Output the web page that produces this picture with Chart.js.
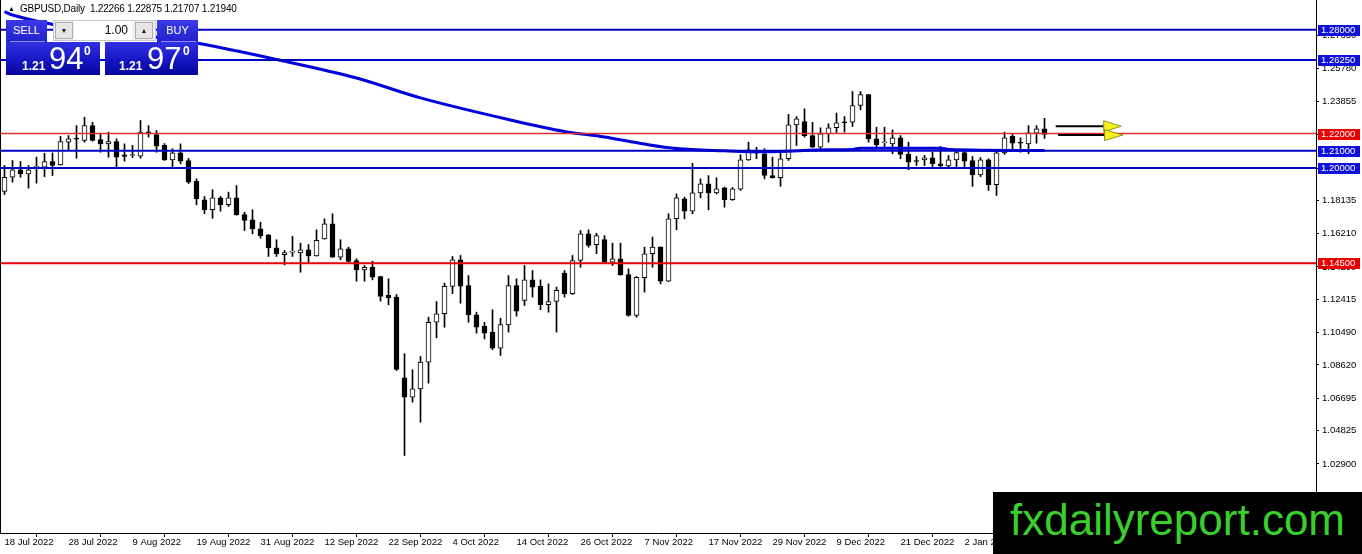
<!DOCTYPE html>
<html lang="en">
<head>
  <meta charset="UTF-8" />
  <title>GBPUSD Daily</title>
  <script src="https://cdn.jsdelivr.net/npm/chart.js"></script>
  <style>
    body { margin: 0; background: #fff; overflow: hidden; }
    #wrap { position: relative; width: 1362px; height: 554px; }
    #wrap canvas { position: absolute; left: 0; top: 0; }
    .txt { position: absolute; white-space: pre; color: #000; }
    .title { left: 8px; top: 2px; font: 10px 'Liberation Sans', sans-serif; line-height: 14px; letter-spacing: -0.2px; }
    .title .tri { font-size: 7px; vertical-align: 1px; }
    .blue { position: absolute; background: linear-gradient(to bottom, #3030e2 0%, #1616c4 55%, #06069c 100%); color: #fff; }
    .tab { font: 11px 'Liberation Sans', sans-serif; text-align: center; line-height: 20px; background: linear-gradient(to bottom, #3a3ae6, #2222cc); }
    .sep { position: absolute; height: 1px; background: #8c8cf0; }
    .lot { position: absolute; left: 53px; top: 20px; width: 101px; height: 19px; background: #f0f0f0; border: 1px solid #c8c8c8; }
    .btn { position: absolute; top: 1px; width: 16px; height: 15px; background: #e6e6e6; border: 1px solid #adadad; font: 7px sans-serif; text-align: center; line-height: 15px; color: #222; }
    .inp { position: absolute; left: 20px; top: 0; width: 58px; height: 19px; background: #fff; font: 12px 'Liberation Sans', sans-serif; text-align: right; line-height: 19px; padding-right: 4px; box-sizing: border-box; color: #000; }
    .small { position: absolute; font: bold 12px 'Liberation Sans', sans-serif; line-height: 12px; color: #fff; }
    .big { position: absolute; font: 31px 'Liberation Sans', sans-serif; line-height: 31px; color: #fff; }
    .sup { position: absolute; font: bold 12px 'Liberation Sans', sans-serif; line-height: 12px; color: #fff; }
    .mark { position: absolute; left: 993px; top: 492px; width: 369px; height: 62px; background: #000; }
    .mark span { position: absolute; left: 17px; top: 6px; font: 44px 'Liberation Sans', Arial, sans-serif; line-height: 44px; color: #3acf2c; }
  </style>
</head>
<body>
  <div id="wrap">
    <canvas id="chart" width="1362" height="554"></canvas>

    <div class="txt title"><span class="tri">▲</span>  GBPUSD,Daily  1.22266 1.22875 1.21707 1.21940</div>

    <!-- one-click trading panel -->
    <div class="blue tab" style="left:6px;top:20px;width:41px;height:22px;">SELL</div>
    <div class="sep" style="left:10px;top:41px;width:35px;"></div>
    <div class="lot">
      <div class="btn" style="left:1px;">▼</div>
      <div class="inp">1.00</div>
      <div class="btn" style="left:81px;">▲</div>
    </div>
    <div class="blue tab" style="left:157px;top:20px;width:41px;height:22px;">BUY</div>
    <div class="sep" style="left:161px;top:41px;width:35px;"></div>

    <div class="blue" style="left:6px;top:42px;width:94px;height:33px;"></div>
    <div class="small" style="left:22px;top:60px;">1.21</div>
    <div class="big" style="left:49px;top:43px;">94</div>
    <div class="sup" style="left:84px;top:45px;">0</div>

    <div class="blue" style="left:105px;top:42px;width:93px;height:33px;"></div>
    <div class="small" style="left:119px;top:60px;">1.21</div>
    <div class="big" style="left:147px;top:43px;">97</div>
    <div class="sup" style="left:183px;top:45px;">0</div>

    <div class="mark"><span>fxdailyreport.com</span></div>
  </div>

  <script>
    // daily candles, 18 Jul 2022 .. 16 Jan 2023 (bar index 0..130)
    const opens = [
      1.1865, 1.1947, 1.1990, 1.1967, 1.2004, 1.2005, 1.2038, 1.2019, 1.2150, 1.2169,
      1.2160, 1.2246, 1.2165, 1.2140, 1.2154, 1.2077, 1.2073, 1.2069, 1.2210, 1.2194,
      1.2131, 1.2048, 1.2088, 1.2044, 1.1923, 1.1817, 1.1759, 1.1828, 1.1788, 1.1828,
      1.1732, 1.1701, 1.1649, 1.1614, 1.1539, 1.1499, 1.1514, 1.1510, 1.1528, 1.1493,
      1.1591, 1.1678, 1.1485, 1.1534, 1.1466, 1.1412, 1.1427, 1.1373, 1.1264, 1.1254,
      1.0788, 1.0676, 1.0724, 1.0878, 1.1109, 1.1158, 1.1316, 1.1470, 1.1321, 1.1152,
      1.1085, 1.1050, 1.0959, 1.1094, 1.1321, 1.1235, 1.1354, 1.1316, 1.1210, 1.1229,
      1.1393, 1.1274, 1.1466, 1.1620, 1.1558, 1.1587, 1.1456, 1.1476, 1.1385, 1.1148,
      1.1366, 1.1505, 1.1543, 1.1346, 1.1707, 1.1823, 1.1751, 1.1857, 1.1909, 1.1857,
      1.1886, 1.1817, 1.1878, 1.2048, 1.2096, 1.2083, 1.1957, 1.1944, 1.2054, 1.2250,
      1.2269, 1.2188, 1.2121, 1.2198, 1.2233, 1.2265, 1.2265, 1.2362, 1.2425, 1.2169,
      1.2146, 1.2140, 1.2175, 1.2079, 1.2040, 1.2048, 1.2060, 1.2025, 1.2013, 1.2048,
      1.2090, 1.2044, 1.1961, 1.2048, 1.1904, 1.2088, 1.2183, 1.2150, 1.2140, 1.2202,
      1.22266
    ];
    const highs = [
      1.2015, 1.2044, 1.2038, 1.2015, 1.2063, 1.2086, 1.2088, 1.2183, 1.2188, 1.2246,
      1.2294, 1.2265, 1.2202, 1.2208, 1.2169, 1.2140, 1.2131, 1.2275, 1.2246, 1.2217,
      1.2142, 1.2112, 1.2140, 1.2056, 1.1938, 1.1836, 1.1875, 1.1836, 1.1861, 1.1899,
      1.1745, 1.1759, 1.1687, 1.1616, 1.1586, 1.1524, 1.1605, 1.1566, 1.1558, 1.1643,
      1.1707, 1.1736, 1.1586, 1.1543, 1.1476, 1.1437, 1.1462, 1.1375, 1.1360, 1.1269,
      1.0927, 1.0834, 1.0911, 1.1138, 1.1229, 1.1335, 1.1489, 1.1495, 1.1379, 1.1167,
      1.1109, 1.1181, 1.1132, 1.1379, 1.1360, 1.1437, 1.1408, 1.1354, 1.1331, 1.1312,
      1.1408, 1.1495, 1.1639, 1.1643, 1.1624, 1.1610, 1.1566, 1.1566, 1.1418, 1.1373,
      1.1543, 1.1601, 1.1545, 1.1736, 1.1851, 1.1832, 1.2028, 1.1938, 1.1957, 1.1944,
      1.1890, 1.1888, 1.2077, 1.2150, 1.2121, 1.2112, 1.2063, 1.2092, 1.2310, 1.2298,
      1.2343, 1.2265, 1.2233, 1.2256, 1.2318, 1.2298, 1.2443, 1.2443, 1.2427, 1.2236,
      1.2236, 1.2221, 1.2188, 1.2150, 1.2067, 1.2073, 1.2092, 1.2125, 1.2073, 1.2106,
      1.2102, 1.2067, 1.2061, 1.2054, 1.2102, 1.2208, 1.2198, 1.2175, 1.2246, 1.2246,
      1.22875
    ];
    const lows = [
      1.1847, 1.1919, 1.1947, 1.1884, 1.1913, 1.1951, 1.1957, 1.2017, 1.2106, 1.2057,
      1.2150, 1.2156, 1.2092, 1.2063, 1.2002, 1.2040, 1.2060, 1.2057, 1.2179, 1.2092,
      1.2044, 1.2002, 1.2025, 1.1911, 1.1788, 1.1736, 1.1710, 1.1751, 1.1778, 1.1728,
      1.1639, 1.1620, 1.1595, 1.1489, 1.1489, 1.1441, 1.1489, 1.1398, 1.1456, 1.1491,
      1.1589, 1.1483, 1.1470, 1.1456, 1.1346, 1.1346, 1.1354, 1.1231, 1.1210, 1.0830,
      1.0339, 1.0647, 1.0531, 1.0757, 1.1019, 1.1080, 1.1274, 1.1219, 1.1109, 1.1046,
      1.1013, 1.0950, 1.0917, 1.1052, 1.1144, 1.1206, 1.1254, 1.1181, 1.1167, 1.1052,
      1.1254, 1.1269, 1.1427, 1.1543, 1.1505, 1.1454, 1.1437, 1.1381, 1.1144, 1.1138,
      1.1283, 1.1427, 1.1331, 1.1344, 1.1643, 1.1707, 1.1736, 1.1828, 1.1759, 1.1851,
      1.1774, 1.1813, 1.1871, 1.2044, 1.2054, 1.1938, 1.1942, 1.1895, 1.2044, 1.2131,
      1.2179, 1.2119, 1.2112, 1.2150, 1.2206, 1.2208, 1.2240, 1.2337, 1.2150, 1.2121,
      1.2121, 1.2083, 1.2054, 1.1990, 1.2015, 1.2015, 1.2002, 1.2002, 1.2002, 1.2002,
      1.2009, 1.1894, 1.1951, 1.1871, 1.1842, 1.2079, 1.2112, 1.2092, 1.2083, 1.2144,
      1.21707
    ];
    const closes = [
      1.1946, 1.1990, 1.1967, 1.1990, 1.2008, 1.2038, 1.2015, 1.2154, 1.2169, 1.2167,
      1.2246, 1.2160, 1.2140, 1.2154, 1.2063, 1.2067, 1.2075, 1.2208, 1.2198, 1.2127,
      1.2048, 1.2088, 1.2040, 1.1919, 1.1823, 1.1759, 1.1828, 1.1788, 1.1828, 1.1730,
      1.1697, 1.1649, 1.1610, 1.1539, 1.1505, 1.1512, 1.1516, 1.1528, 1.1493, 1.1582,
      1.1678, 1.1485, 1.1534, 1.1460, 1.1412, 1.1427, 1.1369, 1.1258, 1.1250, 1.0836,
      1.0676, 1.0724, 1.0878, 1.1109, 1.1158, 1.1316, 1.1470, 1.1317, 1.1152, 1.1080,
      1.1046, 1.0959, 1.1096, 1.1321, 1.1173, 1.1354, 1.1312, 1.1210, 1.1229, 1.1293,
      1.1274, 1.1466, 1.1620, 1.1553, 1.1610, 1.1456, 1.1476, 1.1383, 1.1148, 1.1369,
      1.1505, 1.1543, 1.1346, 1.1707, 1.1828, 1.1751, 1.1857, 1.1909, 1.1857, 1.1880,
      1.1817, 1.1880, 1.2048, 1.2106, 1.2086, 1.1957, 1.1944, 1.2054, 1.2250, 1.2285,
      1.2188, 1.2121, 1.2198, 1.2233, 1.2262, 1.2262, 1.2362, 1.2425, 1.2169, 1.2135,
      1.2148, 1.2175, 1.2079, 1.2034, 1.2038, 1.2060, 1.2025, 1.2013, 1.2048, 1.2090,
      1.2040, 1.1961, 1.2048, 1.1904, 1.2088, 1.2175, 1.2144, 1.2144, 1.2204, 1.2227,
      1.21940
    ];

    // moving average, read at a few bars
    const maIndex = [0, 1, 24, 34, 44, 52, 63, 70, 75, 80, 84, 90, 95, 103, 106, 107, 117, 118, 130];
    const maValues = [1.2905, 1.2885, 1.2723, 1.2628, 1.2521, 1.2406, 1.2281, 1.2212, 1.2180, 1.2139,
                      1.2113, 1.2100, 1.2094, 1.2106, 1.2108, 1.2115, 1.2115, 1.2108, 1.2102];

    // horizontal levels
    const levelPrices = [1.28, 1.2625, 1.22, 1.21, 1.20, 1.145];
    const levelColors = ['#0000c4', '#0000c4', '#dc3030', '#0000c4', '#0000c4', '#e80000'];
    const levelWidths = [2, 2, 1.5, 2, 2, 2];
    const levelBoxColors = ['#1010dc', '#1010dc', '#e80000', '#1010dc', '#1010dc', '#e80000'];

    // arrows on the right
    const arrowFrom = [131.4, 131.7];
    const arrowTo = [137.4, 137.5];
    const arrowTip = [139.6, 139.8];
    const arrowPrice = [1.2242, 1.2191];

    // axes
    const yTicks = [1.27650, 1.25780, 1.23855, 1.21930, 1.20005, 1.18135, 1.16210, 1.14290,
                    1.12415, 1.10490, 1.08620, 1.06695, 1.04825, 1.02900];
    const xTickIdx = [0, 8, 16, 24, 32, 40, 48, 56, 64, 72, 80, 88, 96, 104, 112, 120, 128];
    const xTickLabels = ['18 Jul 2022', '28 Jul 2022', '9 Aug 2022', '19 Aug 2022', '31 Aug 2022',
                         '12 Sep 2022', '22 Sep 2022', '4 Oct 2022', '14 Oct 2022', '26 Oct 2022',
                         '7 Nov 2022', '17 Nov 2022', '29 Nov 2022', '9 Dec 2022', '21 Dec 2022',
                         '2 Jan 2023', '12 Jan 2023'];

    const axisFont = { family: "'Liberation Sans', sans-serif", size: 9.5, lineHeight: 1.2 };

    const overlay = {
      id: 'overlay',
      afterDraw(chart) {
        const { ctx, chartArea: a, scales } = chart;
        const xs = scales.x, ys = scales.y;
        ctx.save();
        ctx.fillStyle = '#000';
        ctx.fillRect(a.left, a.top, 1, a.bottom - a.top);

        // arrows
        arrowPrice.forEach((p, k) => {
          const py = ys.getPixelForValue(p);
          const x0 = xs.getPixelForValue(arrowFrom[k]);
          const x1 = xs.getPixelForValue(arrowTo[k]);
          const x2 = xs.getPixelForValue(arrowTip[k]);
          ctx.strokeStyle = '#000';
          ctx.lineWidth = 2;
          ctx.beginPath();
          ctx.moveTo(x0, py);
          ctx.lineTo(x1, py);
          ctx.stroke();
          ctx.fillStyle = '#f4f01a';
          ctx.strokeStyle = '#7a7a10';
          ctx.lineWidth = 0.8;
          ctx.beginPath();
          ctx.moveTo(x1, py - 5.5);
          ctx.lineTo(x2, py);
          ctx.lineTo(x1, py + 5.5);
          ctx.closePath();
          ctx.fill();
          ctx.stroke();
        });

        // price boxes on the axis
        ctx.font = "9.5px 'Liberation Sans', sans-serif";
        ctx.textBaseline = 'middle';
        ctx.textAlign = 'left';
        levelPrices.forEach((p, k) => {
          const py = Math.round(ys.getPixelForValue(p));
          ctx.fillStyle = levelBoxColors[k];
          ctx.fillRect(a.right + 2, py - 5, 42, 11);
          ctx.fillStyle = '#fff';
          ctx.fillText(p.toFixed(5), a.right + 5, py + 0.5);
        });
        ctx.restore();
      }
    };

    const levelSets = levelPrices.map((p, k) => ({
      type: 'line',
      data: [{ x: -1, y: p }, { x: 165, y: p }],
      borderColor: levelColors[k],
      borderWidth: levelWidths[k],
      pointRadius: 0,
      order: 0
    }));

    new Chart(document.getElementById('chart'), {
      type: 'bar',
      data: {
        datasets: [
          ...levelSets,
          {
            type: 'line',
            data: maIndex.map((ix, k) => ({ x: ix, y: maValues[k] })),
            borderColor: '#0000dc',
            borderWidth: 3,
            pointRadius: 0,
            cubicInterpolationMode: 'monotone',
            order: 1
          },
          {
            data: opens.map((o, i) => ({ x: i, y: [o, closes[i]] })),
            backgroundColor: opens.map((o, i) => closes[i] >= o ? '#fff' : '#000'),
            borderColor: '#000',
            borderWidth: 1,
            borderSkipped: false,
            barThickness: 5,
            minBarLength: 1,
            grouped: false,
            order: 2
          },
          {
            data: lows.map((l, i) => ({ x: i, y: [l, highs[i]] })),
            backgroundColor: '#000',
            borderWidth: 0,
            barThickness: 1,
            grouped: false,
            order: 3
          }
        ]
      },
      options: {
        responsive: false,
        animation: false,
        events: [],
        layout: { padding: 0 },
        plugins: { legend: { display: false }, tooltip: { enabled: false } },
        scales: {
          x: {
            type: 'linear',
            min: -0.5625,
            max: 163.9375,
            offset: false,
            grid: { drawOnChartArea: false, tickLength: 4, color: '#000' },
            border: { display: true, color: '#000' },
            ticks: {
              autoSkip: false, maxRotation: 0, minRotation: 0, align: 'start', padding: 0,
              color: '#000', font: axisFont,
              callback: (v) => { const k = xTickIdx.indexOf(v); return k >= 0 ? xTickLabels[k] : ''; }
            },
            afterBuildTicks: (s) => { s.ticks = xTickIdx.map(v => ({ value: v })); },
            afterFit: (s) => { s.height = 21; s.paddingLeft = 0; s.paddingRight = 0; }
          },
          y: {
            position: 'right',
            min: 0.98907,
            max: 1.29717,
            grid: { drawOnChartArea: false, tickLength: 3, color: '#000' },
            border: { display: true, color: '#000' },
            ticks: { padding: 3, color: '#000', font: axisFont, callback: (v) => Number(v).toFixed(5) },
            afterBuildTicks: (s) => { s.ticks = yTicks.map(v => ({ value: v })); },
            afterFit: (s) => { s.width = 46; s.paddingTop = 0; s.paddingBottom = 0; }
          }
        }
      },
      plugins: [overlay]
    });
  </script>
</body>
</html>
